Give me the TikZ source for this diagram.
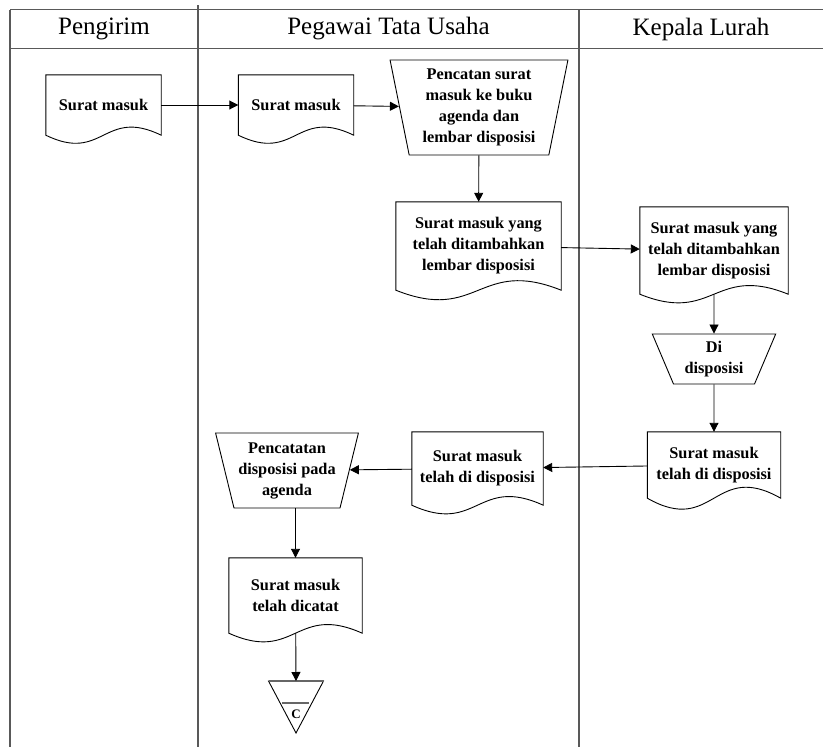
\documentclass[tikz,border=0pt]{standalone}
\usepackage{fontspec}
\setmainfont{Liberation Serif}
\usetikzlibrary{shapes.geometric,arrows.meta,calc}
\begin{document}
\begin{tikzpicture}[x=1pt,y=-1pt,
  lane/.style={draw=black!65, line width=1.3pt},
  head/.style={font=\fontsize{25}{30}\selectfont, inner sep=0pt},
  doc/.style={inner sep=0pt, align=center, font=\bfseries\fontsize{16.3}{21}\selectfont},
  manual/.style={trapezium, trapezium stretches=true, draw, line width=0.9pt,
    inner sep=0pt, align=center, font=\bfseries\fontsize{16.3}{21}\selectfont},
  outline/.style={line width=0.9pt},
  flow/.style={line width=0.9pt, -{Triangle[length=9pt,width=9pt]}}]

\useasboundingbox (0,0) rectangle (823,747);

% swimlane frame
\draw[lane] (10,9.5) -- (823,9.5);
\draw[lane] (10,48.5) -- (823,48.5);
\draw[lane] (10,9.5) -- (10,747);
\draw[lane] (198,5) -- (198,747);
\draw[lane] (579,9.5) -- (579,747);

\node[head] (h1) at (104,29) {Pengirim};
\node[head] (h2) at (388.5,29) {Pegawai Tata Usaha};
\node[head] (h3) at (701,29) {Kepala Lurah};

% documents (outlines drawn below)
\node[doc, minimum width=115pt, minimum height=60pt] (d1) at (103.5,105) {Surat masuk};
\node[doc, minimum width=115pt, minimum height=60pt] (d2) at (296,105) {Surat masuk};
\node[doc, minimum width=165pt, minimum height=88pt] (d4) at (478.5,246)
  {Surat masuk yang\\telah ditambahkan\\lembar disposisi};
\node[doc, minimum width=148pt, minimum height=87pt] (d5) at (714,250.5)
  {Surat masuk yang\\telah ditambahkan\\lembar disposisi};
\node[doc, minimum width=133pt, minimum height=66pt] (d6) at (714,465)
  {Surat masuk\\telah di disposisi};
\node[doc, minimum width=131pt, minimum height=73pt] (d7) at (477.5,468.5)
  {Surat masuk\\telah di disposisi};
\node[doc, minimum width=133pt, minimum height=75pt] (d8) at (295.5,595.5)
  {Surat masuk\\telah dicatat};

% manual operations
\node[manual, trapezium left angle=101.3, trapezium right angle=101.3,
  minimum width=178pt, minimum height=95pt] (t1) at (479,107.5)
  {Pencatan surat\\masuk ke buku\\agenda dan\\lembar disposisi};
\node[manual, trapezium left angle=113.3, trapezium right angle=113.3,
  minimum width=124pt, minimum height=50pt] (t2) at (714,359)
  {Di\\disposisi};
\node[manual, trapezium left angle=106.7, trapezium right angle=106.7,
  minimum width=143pt, minimum height=75pt] (t3) at (287,470.5)
  {Pencatatan\\disposisi pada\\agenda};

% document outlines with wavy bottom
\foreach \n/\k in {d1/28,d2/28,d4/33,d5/30,d6/38,d7/30,d8/30}
  \draw[outline] (\n.north west) -- (\n.north east) -- (\n.south east)
    .. controls ($(\n.south)+(0,-\k)$) and ($(\n.south)+(0,\k)$) .. (\n.south west) -- cycle;

% off-page storage
\coordinate (arch) at (296,681);
\draw[outline] ($(arch)+(-27.5,0)$) -- ($(arch)+(27.5,0)$) -- ($(arch)+(0,52)$) -- cycle;
\draw[black!60, line width=1.6pt] ($(arch)+(-27.5,0)$) -- ($(arch)+(27.5,0)$);
\draw[black!60, line width=1.1pt] ($(arch)+(-14,22)$) -- ($(arch)+(13,22)$);
\node[font=\bfseries\fontsize{13}{15}\selectfont, inner sep=0pt] (archC) at ($(arch)+(0,33)$) {C};

% flow
\draw[flow] (d1) -- (d2);
\draw[flow] (d2) -- (t1);
\draw[flow] (t1) -- (d4);
\draw[flow] (d4) -- (d5);
\draw[flow] (d5) -- (t2);
\draw[flow] (t2) -- (d6);
\draw[flow] (d6) -- (d7);
\draw[flow] (d7) -- (t3);
\draw[flow] (d8.north |- t3.south) -- (d8);
\draw[flow] (d8) -- (arch);
\end{tikzpicture}
\end{document}
